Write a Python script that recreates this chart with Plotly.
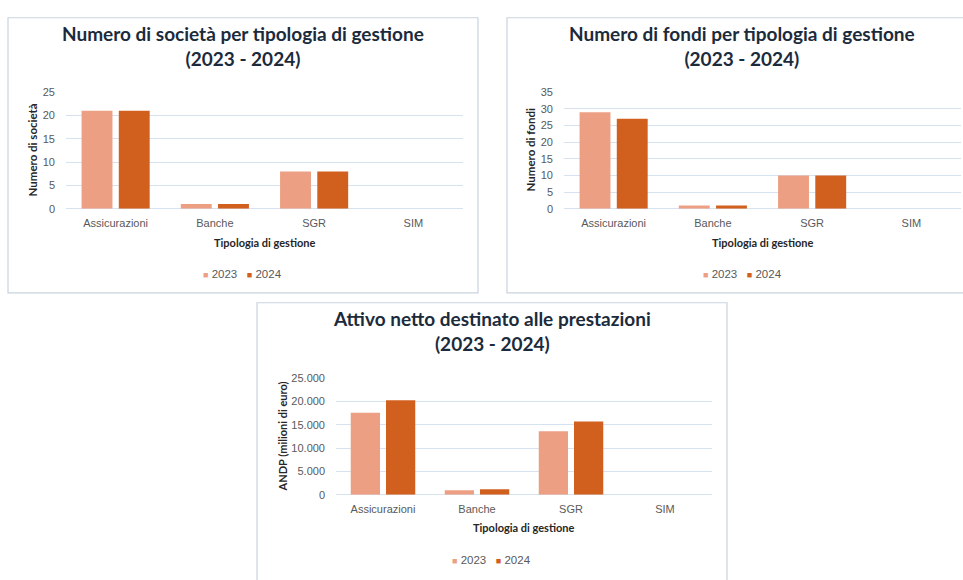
import plotly.graph_objects as go

# --- data ---------------------------------------------------------------
categories = ["Assicurazioni", "Banche", "SGR", "SIM"]
years = ["2023", "2024"]

societa_2023 = [21, 1, 8, 0]
societa_2024 = [21, 1, 8, 0]

fondi_2023 = [29, 1, 10, 0]
fondi_2024 = [27, 1, 10, 0]

andp_2023 = [17550, 950, 13600, 0]
andp_2024 = [20250, 1150, 15700, 0]

titles = [
    "Numero di società per tipologia di gestione<br>(2023 - 2024)",
    "Numero di fondi per tipologia di gestione<br>(2023 - 2024)",
    "Attivo netto destinato alle prestazioni<br>(2023 - 2024)",
]
y_titles = ["Numero di società", "Numero di fondi", "ANDP (milioni di euro)"]
x_title = "Tipologia di gestione"

# --- styling ------------------------------------------------------------
W, H = 963, 580
COL_2023 = "#ec9f83"
COL_2024 = "#d1601f"
GRID = "#d6e2ef"
BORDER = "#c9d3de"
TITLE_COL = "#1c2b3c"
TICK_COL = "#595959"
AXT_COL = "#262626"
FONT = "Lato"
TICK_FONT = "Liberation Sans"


def px(x):
    return x / W


def py(y):
    return 1 - y / H


# panel geometry in pixels: box (l, t, r, b), plot (l, t, r, b)
panels = [
    dict(box=(8, 12, 478, 293), plot=(66, 88, 463, 207), ytx=34, yts=11.5,
         data=(societa_2023, societa_2024), rng=25, dtick=5, fmt="d"),
    dict(box=(507, 12, 977, 293), plot=(564, 88, 961, 207), ytx=34, yts=11.5,
         data=(fondi_2023, fondi_2024), rng=35, dtick=5, fmt="d"),
    dict(box=(257, 303, 727, 600), plot=(336, 380, 712, 499), ytx=54, yts=11,
         data=(andp_2023, andp_2024), rng=25000, dtick=5000, fmt=",d"),
]

fig = go.Figure()
shapes = []
annotations = []
layout_axes = {}

for i, p in enumerate(panels):
    n = "" if i == 0 else str(i + 1)
    bl, bt, br, bb = p["box"]
    pl, pt, pr, pb = p["plot"]
    cx = (bl + br) / 2

    for yr, vals, col in zip(years, p["data"], [COL_2023, COL_2024]):
        fig.add_trace(go.Bar(
            x=categories, y=vals, name=yr,
            marker=dict(color=col, line=dict(width=0)),
            xaxis=f"x{n}", yaxis=f"y{n}", showlegend=False,
            hovertemplate="%{x}: %{y}<extra>" + yr + "</extra>",
        ))

    layout_axes[f"xaxis{n}"] = dict(
        domain=[px(pl), px(pr)], anchor=f"y{n}",
        showgrid=False, showline=False, zeroline=False,
        ticks="", ticklabelstandoff=6,
        tickfont=dict(family=TICK_FONT, size=11, color=TICK_COL),
        fixedrange=True,
    )
    layout_axes[f"yaxis{n}"] = dict(
        domain=[py(pb), py(pt)], anchor=f"x{n}",
        range=[0, p["rng"]], dtick=p["dtick"], tickformat=p["fmt"],
        showgrid=True, gridcolor=GRID, gridwidth=1,
        zeroline=True, zerolinecolor=GRID, zerolinewidth=1.2,
        showline=False, ticks="", ticklabelstandoff=10,
        tickfont=dict(family=TICK_FONT, size=11, color=TICK_COL),
        fixedrange=True,
    )

    # panel frame
    shapes.append(dict(
        type="rect", xref="paper", yref="paper",
        x0=px(bl), x1=px(br), y0=py(bb), y1=py(bt),
        line=dict(color=BORDER, width=1.2), fillcolor="rgba(0,0,0,0)",
        layer="below",
    ))

    # panel title
    annotations.append(dict(
        text=f"<b>{titles[i]}</b>", xref="paper", yref="paper",
        x=px(cx), y=py(bt + 29), xanchor="center", yanchor="middle",
        showarrow=False, align="center",
        font=dict(family=FONT, size=19, color=TITLE_COL, weight=800),
    ))
    # axis titles
    annotations.append(dict(
        text=f"<b>{y_titles[i]}</b>", xref="paper", yref="paper",
        x=px(pl - p["ytx"]), y=py((pt + pb) / 2), xanchor="center",
        yanchor="middle", textangle=-90, showarrow=False,
        font=dict(family=FONT, size=p["yts"], color=AXT_COL),
    ))
    annotations.append(dict(
        text=f"<b>{x_title}</b>", xref="paper", yref="paper",
        x=px((pl + pr) / 2), y=py(pb + 34), xanchor="center",
        yanchor="middle", showarrow=False,
        font=dict(family=FONT, size=11, color=AXT_COL),
    ))
    # series key: coloured square followed by the year
    key = "&nbsp;&nbsp;&nbsp;".join(
        f"<span style='color:{c};font-size:9px'>■</span>&nbsp;{y}"
        for y, c in zip(years, [COL_2023, COL_2024])
    )
    annotations.append(dict(
        text=key, xref="paper", yref="paper",
        x=px(cx), y=py(pb + 67), xanchor="center", yanchor="middle",
        showarrow=False,
        font=dict(family=TICK_FONT, size=11.5, color=TICK_COL),
    ))

fig.update_layout(
    width=W, height=H,
    margin=dict(l=0, r=0, t=0, b=0),
    paper_bgcolor="white", plot_bgcolor="white",
    barmode="group", bargap=0.25, bargroupgap=0.17,
    separators=",.",
    showlegend=False,
    shapes=shapes, annotations=annotations,
    **layout_axes,
)

fig.write_html("out.html")
